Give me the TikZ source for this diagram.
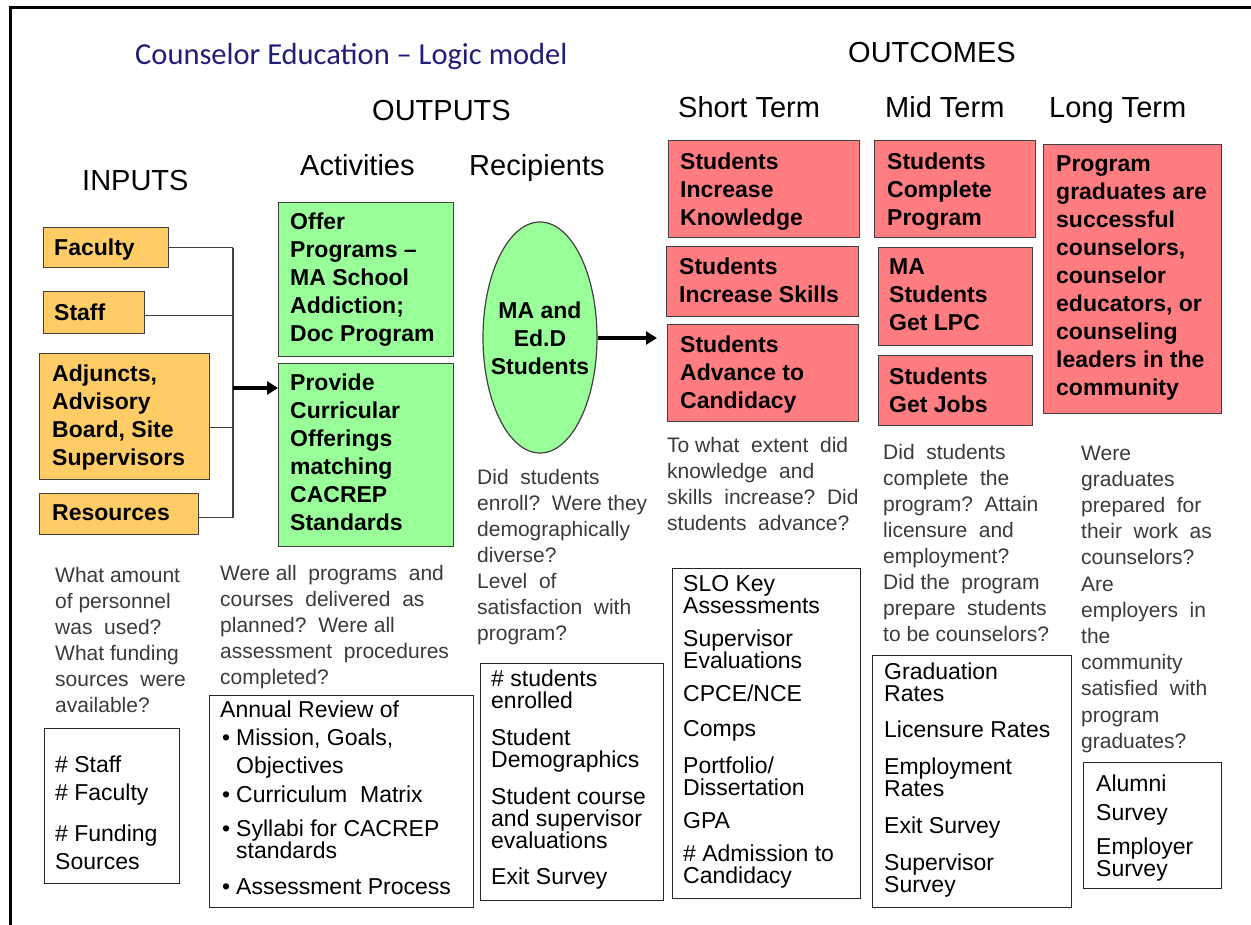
\documentclass[tikz,border=0pt]{standalone}
\usepackage{fontspec}
\setmainfont{Liberation Sans}
\newfontfamily\titlefont{Carlito}
\usetikzlibrary{arrows.meta,shapes.geometric}
\definecolor{orangefill}{HTML}{FFCC66}
\definecolor{greenfill}{HTML}{99FF99}
\definecolor{redfill}{HTML}{FF7C80}
\definecolor{edgegray}{HTML}{404040}
\definecolor{qgray}{HTML}{3A3A3A}
\definecolor{titleblue}{HTML}{1F1F7A}
\begin{document}
\begin{tikzpicture}[x=1pt,y=-1pt,
  cbox/.style={draw=edgegray, line width=1.4pt, inner sep=0, anchor=north west},
  obox/.style={cbox, fill=orangefill},
  gbox/.style={cbox, fill=greenfill},
  rbox/.style={cbox, fill=redfill},
  mbox/.style={draw=black!85, line width=1.3pt, fill=white, inner sep=0, anchor=north west},
  btxt/.style={inner sep=0, anchor=north west, align=left, font=\fontsize{23}{28}\selectfont\bfseries},
  qtxt/.style={inner sep=0, anchor=north west, align=left, text=qgray, font=\fontsize{21}{26}\selectfont},
  mtxt/.style={inner sep=0, anchor=north west, align=left, font=\fontsize{23}{22}\selectfont},
  hdr/.style={inner sep=0, anchor=base west, font=\fontsize{29}{34}\selectfont},
  conn/.style={draw=edgegray, line width=1.2pt},
  bigarrow/.style={line width=4pt, -{Triangle[length=11pt,width=13pt]}},
]
\useasboundingbox (0,0) rectangle (1251,925);
\draw[line width=3pt] (10,925) -- (10,8) -- (1251,8);

% headers
\node[hdr, font=\fontsize{30.5}{34}\selectfont\titlefont, text=titleblue] (title) at (135,65) {Counselor Education – Logic model};
\node[hdr] (hOut) at (372,120.4) {OUTPUTS};
\node[hdr] (hIn) at (82,190.4) {INPUTS};
\node[hdr] (hAct) at (300,175.4) {Activities};
\node[hdr] (hRec) at (469,175.4) {Recipients};
\node[hdr] (hOc) at (848,62.4) {OUTCOMES};
\node[hdr] (hSt) at (678,117.4) {Short Term};
\node[hdr] (hMid) at (885,117.4) {Mid Term};
\node[hdr] (hLong) at (1049,117.4) {Long Term};

% inputs
\node[obox, minimum width=125, minimum height=40] (fac) at (43,227) {};
\node[obox, minimum width=101, minimum height=42] (stf) at (43,291) {};
\node[obox, minimum width=170, minimum height=126] (adj) at (39,353) {};
\node[obox, minimum width=159, minimum height=41] (res) at (39,493) {};
\node[btxt] (facT) at (54,238.7) {Faculty};
\node[btxt] (stfT) at (54,303.7) {Staff};
\node[btxt] (adjT) at (52,364.7) {Adjuncts,\\Advisory\\Board, Site\\Supervisors};
\node[btxt] (resT) at (52,504.7) {Resources};

% connectors
\coordinate (bus) at (233,388);
\coordinate (stfE) at ([yshift=-3pt]stf.east);
\coordinate (adjE) at ([yshift=-11pt]adj.east);
\coordinate (resE) at ([yshift=-3.5pt]res.east);
\draw[conn] (fac.east) -- (fac.east -| bus);
\draw[conn] (stfE) -- (stfE -| bus);
\draw[conn] (adjE) -- (adjE -| bus);
\draw[conn] (resE) -- (resE -| bus);
\draw[conn] (fac.east -| bus) -- (resE -| bus);

% activities
\node[gbox, minimum width=175, minimum height=154] (offer) at (278,202) {};
\node[gbox, minimum width=175, minimum height=183] (prov) at (278,363) {};
\node[btxt] (offerT) at (290,212.7) {Offer\\Programs –\\MA School\\Addiction;\\Doc Program};
\node[btxt] (provT) at (290,373.7) {Provide\\Curricular\\Offerings\\matching\\CACREP\\Standards};
\draw[bigarrow] (bus) -- (bus -| prov.west);

% recipients
\node[ellipse, draw=edgegray, line width=1.2pt, fill=greenfill, minimum width=114, minimum height=231, inner sep=0] (ell) at (540,337.5) {};
\node[btxt, anchor=north, align=center] (ellT) at (540,301.7) {MA and\\Ed.D\\Students};
\coordinate (ellTip) at (657,338);
\draw[bigarrow] (ell.east |- ellTip) -- (ellTip);

% outcomes
\node[rbox, minimum width=191, minimum height=97] (know) at (668,140) {};
\node[rbox, minimum width=192, minimum height=70] (skill) at (666,246) {};
\node[rbox, minimum width=191, minimum height=97] (adv) at (667,324) {};
\node[rbox, minimum width=161, minimum height=97] (comp) at (874,140) {};
\node[rbox, minimum width=154, minimum height=98] (lpc) at (878,247) {};
\node[rbox, minimum width=154, minimum height=70] (jobs) at (878,355) {};
\node[rbox, minimum width=178, minimum height=269] (grad) at (1043,144) {};
\node[btxt] (knowT) at (680,152.7) {Students\\Increase\\Knowledge};
\node[btxt] (skillT) at (679,257.7) {Students\\Increase Skills};
\node[btxt] (advT) at (680,335.7) {Students\\Advance to\\Candidacy};
\node[btxt] (compT) at (887,152.7) {Students\\Complete\\Program};
\node[btxt] (lpcT) at (889,258.7) {MA\\Students\\Get LPC};
\node[btxt] (jobsT) at (889,367.7) {Students\\Get Jobs};
\node[btxt] (gradT) at (1056,155.7) {Program\\graduates are\\successful\\counselors,\\counselor\\educators, or\\counseling\\leaders in the\\community};

% questions
\node[qtxt] (qIn) at (55,567.5) {What amount\\of personnel\\was\ \ used?\\What funding\\sources\ \ were\\available?};
\node[qtxt] (qAct) at (220,565.5) {Were all\ \ programs\ \ and\\courses\ \ delivered\ \ as\\planned?\ \ Were all\\assessment\ \ procedures\\completed?};
\node[qtxt] (qRec) at (477,469.5) {Did\ \ students\\enroll?\ \ Were they\\demographically\\diverse?\\Level\ \ of\\satisfaction\ \ with\\program?};
\node[qtxt] (qSt) at (667,437.5) {To what\ \ extent\ \ did\\knowledge\ \ and\\skills\ \ increase?\ \ Did\\students\ \ advance?};
\node[qtxt] (qMid) at (883,444.5) {Did\ \ students\\complete\ \ the\\program?\ \ Attain\\licensure\ \ and\\employment?\\Did the\ \ program\\prepare\ \ students\\to be counselors?};
\node[qtxt, font=\fontsize{21}{26.2}\selectfont] (qLong) at (1081,445.5) {Were\\graduates\\prepared\ \ for\\their\ \ work\ \ as\\counselors?\\Are\\employers\ \ in\\the\\community\\satisfied\ \ with\\program\\graduates?};

% measurement boxes
\node[mbox, minimum width=135, minimum height=155] (mIn) at (44,728) {};
\node[mbox, minimum width=264, minimum height=212] (mAct) at (209,695) {};
\node[mbox, minimum width=183, minimum height=237] (mRec) at (480,663) {};
\node[mbox, minimum width=188, minimum height=330] (mSt) at (672,568) {};
\node[mbox, minimum width=199, minimum height=252] (mMid) at (872,655) {};
\node[mbox, minimum width=138, minimum height=126] (mLong) at (1083,762) {};

\node[mtxt, font=\fontsize{23}{28}\selectfont] (mInT) at (55,755.7) {\# Staff\\\# Faculty\\[13pt]\# Funding\\Sources};
\node[mtxt] (mActH) at (220,700.7) {Annual Review of};
\node[mtxt] (mActT) at (236,728.7) {Mission, Goals,\\[6pt]Objectives\\[7pt]Curriculum\ \ Matrix\\[12pt]Syllabi for CACREP\\standards\\[14pt]Assessment Process};
\node[mtxt, anchor=base west] (bul1) at (222,745.2) {\textbullet};
\node[mtxt, anchor=base west] (bul2) at (222,802.2) {\textbullet};
\node[mtxt, anchor=base west] (bul3) at (222,836.2) {\textbullet};
\node[mtxt, anchor=base west] (bul4) at (222,894.2) {\textbullet};
\node[mtxt] (mRecT) at (491,669.7) {\# students\\enrolled\\[15pt]Student\\Demographics\\[15pt]Student course\\and supervisor\\evaluations\\[14pt]Exit Survey};
\node[mtxt] (mStT) at (683,575.7) {SLO Key\\Assessments\\[11pt]Supervisor\\Evaluations\\[11pt]CPCE/NCE\\[13pt]Comps\\[15pt]Portfolio/\\Dissertation\\[11pt]GPA\\[11pt]\# Admission to\\Candidacy};
\node[mtxt] (mMidT) at (884,662.7) {Graduation\\Rates\\[14pt]Licensure Rates\\[15pt]Employment\\Rates\\[15pt]Exit Survey\\[15pt]Supervisor\\Survey};
\node[mtxt] (mLongT) at (1096,774.7) {Alumni\\[7pt]Survey\\[12pt]Employer\\Survey};
\end{tikzpicture}
\end{document}
